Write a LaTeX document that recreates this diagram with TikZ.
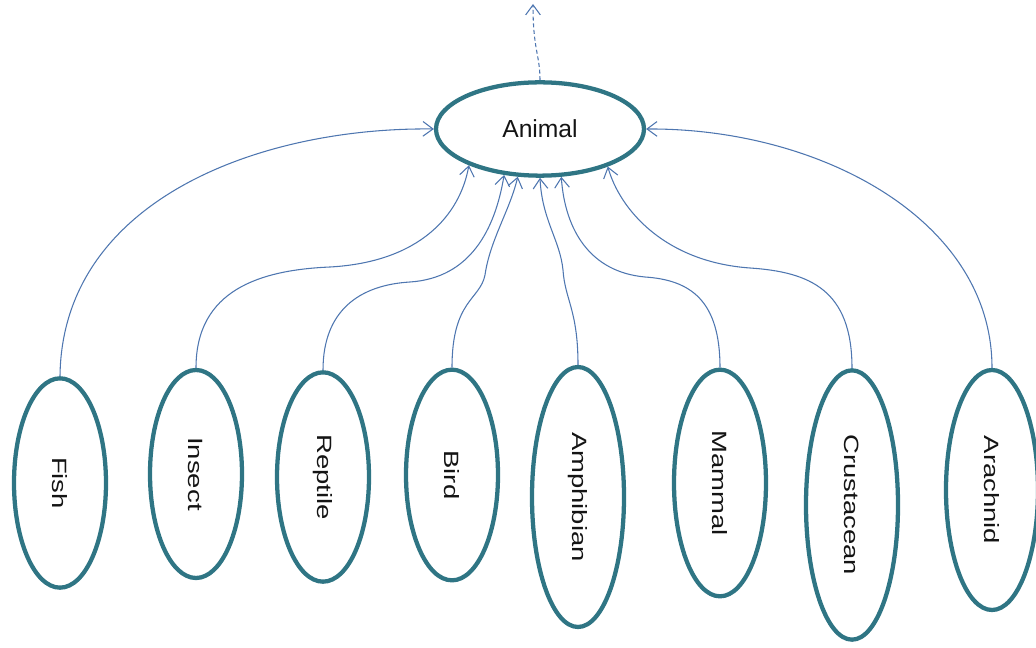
\documentclass[tikz,border=0pt]{standalone}
\usepackage{fontspec}
\setmainfont{Liberation Sans}
\usetikzlibrary{shapes.geometric,arrows.meta}
\definecolor{ringc}{RGB}{47,117,132}
\definecolor{linkc}{RGB}{78,118,176}
\definecolor{txtc}{RGB}{20,20,20}
\tikzset{
  ring/.style={ellipse, draw=ringc, line width=3.2pt, inner sep=0pt},
  kid/.style={ring, minimum width=69pt},
  lab/.style={rotate=-90, text=txtc, font=\fontsize{15.5}{16}\selectfont, inner sep=0pt},
  link/.style={draw=linkc, line width=0.8pt, -{Straight Barb[length=7.5pt,width=11pt,line width=0.8pt]}},
}
\newcommand{\stretchtxt}[1]{\scalebox{1.33}[1]{#1}}
\begin{document}
\begin{tikzpicture}[x=0.75pt,y=-0.75pt]
\useasboundingbox (0,0) rectangle (1036,648);
\node[ring, minimum width=156pt, minimum height=70pt, text=txtc, font=\fontsize{18.5}{20}\selectfont] (animal) at (540,129) {Animal};
\coordinate (up) at (533,4);
% children
\node[kid, minimum height=157pt] (fish) at (60,483) {};
\node[kid, minimum height=156pt] (insect) at (196,474) {};
\node[kid, minimum height=157pt] (reptile) at (323,477) {};
\node[kid, minimum height=158pt] (bird) at (452,475) {};
\node[kid, minimum height=195pt] (amph) at (578,497) {};
\node[kid, minimum height=170pt] (mammal) at (720,483) {};
\node[kid, minimum height=202pt] (crust) at (852,505) {};
\node[kid, minimum height=180pt] (arach) at (992,490) {};
\node[lab] (tfish) at (fish) {\stretchtxt{Fish}};
\node[lab] (tinsect) at (insect) {\stretchtxt{Insect}};
\node[lab] (treptile) at (reptile) {\stretchtxt{Reptile}};
\node[lab] (tbird) at (bird) {\stretchtxt{Bird}};
\node[lab] (tamph) at (amph) {\stretchtxt{Amphibian}};
\node[lab] (tmammal) at (mammal) {\stretchtxt{Mammal}};
\node[lab] (tcrust) at (crust) {\stretchtxt{Crustacean}};
\node[lab] (tarach) at (arach) {\stretchtxt{Arachnid}};
% connectors
\draw[link, dash pattern=on 3pt off 2pt] (animal.north) .. controls (540,55) and (533,50) .. (up);
\draw[link] (fish.north) .. controls (62,200) and (260,127) .. (animal.180);
\draw[link] (insect.north) .. controls (196,290) and (260,270) .. (330,267) .. controls (420,262) and (460,215) .. (animal.207);
\draw[link] (reptile.north) .. controls (323,310) and (360,285) .. (410,282) .. controls (470,278) and (495,230) .. (animal.232);
\draw[link] (bird.north) .. controls (452,300) and (480,300) .. (485,275) .. controls (490,240) and (510,210) .. (animal.245);
\draw[link] (amph.north) .. controls (578,310) and (565,300) .. (563,270) .. controls (560,240) and (542,220) .. (animal.270);
\draw[link] (mammal.north) .. controls (720,300) and (690,280) .. (645,277) .. controls (590,272) and (565,230) .. (animal.294);
\draw[link] (crust.north) .. controls (852,290) and (810,272) .. (750,268) .. controls (665,262) and (620,210) .. (animal.331);
\draw[link] (arach.north) .. controls (992,220) and (820,128) .. (animal.0);
\end{tikzpicture}
\end{document}
